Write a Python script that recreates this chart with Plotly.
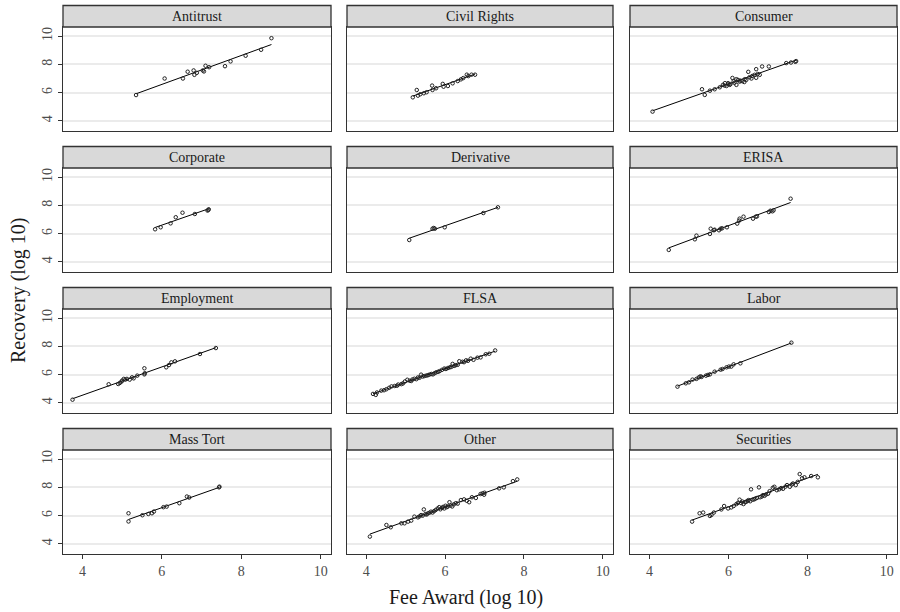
import numpy as np
import plotly.graph_objects as go

# Fee award vs. recovery (both log10), one panel per case category
categories = ["Antitrust", "Civil Rights", "Consumer",
              "Corporate", "Derivative", "ERISA",
              "Employment", "FLSA", "Labor",
              "Mass Tort", "Other", "Securities"]

antitrust_fee = [5.35, 6.07, 6.53, 6.65, 6.80, 6.82, 6.88, 7.03, 7.06, 7.10, 7.19, 7.59, 7.73, 8.11, 8.50, 8.76]
antitrust_rec = [5.83, 7.00, 7.00, 7.48, 7.57, 7.26, 7.40, 7.57, 7.50, 7.90, 7.80, 7.87, 8.21, 8.61, 9.03, 9.85]

civil_fee = [5.18, 5.28, 5.31, 5.37, 5.46, 5.53, 5.67, 5.68, 5.77, 5.94, 5.96, 6.07, 6.19, 6.32, 6.40, 6.46, 6.55, 6.59, 6.67, 6.76]
civil_rec = [5.67, 6.19, 5.79, 5.89, 5.96, 6.03, 6.50, 6.19, 6.31, 6.62, 6.42, 6.47, 6.66, 6.82, 6.94, 7.03, 7.27, 7.17, 7.27, 7.27]

consumer_fee = [4.08, 5.33, 5.40, 5.53, 5.65, 5.78, 5.86, 5.90, 5.91, 5.95, 5.99, 6.00, 6.03, 6.05, 6.10,
                6.13, 6.15, 6.20, 6.20, 6.24, 6.28, 6.30, 6.35, 6.40, 6.41, 6.45, 6.50, 6.53, 6.58, 6.60,
                6.66, 6.70, 6.70, 6.74, 6.79, 6.85, 7.02, 7.46, 7.58, 7.69, 7.71]
consumer_rec = [4.66, 6.24, 5.84, 6.14, 6.24, 6.38, 6.55, 6.50, 6.67, 6.47, 6.67, 6.60, 6.55, 6.60, 7.04,
                6.81, 6.70, 6.55, 6.95, 6.90, 6.78, 6.85, 6.81, 6.75, 6.95, 6.90, 7.47, 7.09, 7.00, 7.18,
                7.26, 7.66, 7.05, 7.32, 7.26, 7.85, 7.85, 8.09, 8.13, 8.18, 8.23]

corporate_fee = [5.83, 5.97, 6.22, 6.35, 6.52, 6.83, 7.15, 7.17, 7.18]
corporate_rec = [6.31, 6.45, 6.73, 7.16, 7.48, 7.39, 7.63, 7.68, 7.72]

derivative_fee = [5.09, 5.68, 5.71, 5.74, 5.99, 6.97, 7.34]
derivative_rec = [5.55, 6.35, 6.40, 6.35, 6.45, 7.46, 7.86]

erisa_fee = [4.49, 5.15, 5.19, 5.53, 5.55, 5.63, 5.65, 5.76, 5.80, 5.84, 5.96, 6.22, 6.27, 6.28, 6.38,
             6.62, 6.69, 6.72, 7.02, 7.06, 7.11, 7.14, 7.57]
erisa_rec = [4.85, 5.60, 5.86, 5.98, 6.35, 6.24, 6.28, 6.24, 6.35, 6.38, 6.45, 6.71, 6.92, 7.06, 7.20,
             7.06, 7.20, 7.22, 7.53, 7.62, 7.58, 7.65, 8.47]

employment_fee = [3.75, 4.66, 4.90, 4.94, 4.98, 5.00, 5.04, 5.08, 5.12, 5.19, 5.25, 5.29, 5.38, 5.56, 5.57,
                  5.56, 6.11, 6.18, 6.24, 6.33, 6.96, 7.36]
employment_rec = [4.23, 5.32, 5.34, 5.41, 5.50, 5.58, 5.70, 5.65, 5.70, 5.65, 5.81, 5.74, 5.93, 6.45, 6.10,
                  6.02, 6.52, 6.68, 6.87, 6.94, 7.46, 7.88]

flsa_fee = [4.17, 4.24, 4.27, 4.38, 4.45, 4.51, 4.58, 4.64, 4.72, 4.78, 4.81, 4.89, 4.93, 4.98, 5.04,
            5.10, 5.14, 5.17, 5.22, 5.27, 5.31, 5.35, 5.39, 5.43, 5.47, 5.52, 5.56, 5.60, 5.65, 5.69,
            5.73, 5.77, 5.82, 5.86, 5.92, 5.98, 6.02, 6.07, 6.12, 6.16, 6.19, 6.23, 6.27, 6.32, 6.36,
            6.44, 6.48, 6.53, 6.58, 6.65, 6.72, 6.82, 6.90, 7.03, 7.12, 7.27]
flsa_rec = [4.64, 4.57, 4.74, 4.87, 4.90, 4.97, 5.07, 5.17, 5.20, 5.22, 5.30, 5.33, 5.38, 5.52, 5.64,
            5.57, 5.55, 5.66, 5.71, 5.68, 5.80, 5.78, 6.00, 5.87, 5.90, 5.93, 5.96, 6.00, 6.05, 6.02,
            6.10, 6.16, 6.20, 6.25, 6.34, 6.43, 6.40, 6.47, 6.52, 6.55, 6.76, 6.62, 6.67, 6.70, 6.95,
            6.91, 6.88, 7.01, 6.98, 7.13, 7.05, 7.20, 7.22, 7.44, 7.48, 7.71]

labor_fee = [4.71, 4.92, 5.00, 5.09, 5.19, 5.25, 5.29, 5.32, 5.43, 5.48, 5.53, 5.65, 5.80, 5.85, 5.95,
             6.01, 6.07, 6.13, 6.30, 7.59]
labor_rec = [5.15, 5.39, 5.46, 5.65, 5.70, 5.81, 5.88, 5.84, 5.93, 5.98, 6.02, 6.21, 6.35, 6.40, 6.52,
             6.57, 6.57, 6.73, 6.80, 8.26]

masstort_fee = [5.16, 5.16, 5.51, 5.66, 5.75, 5.80, 6.04, 6.12, 6.44, 6.63, 6.69, 7.44, 7.45]
masstort_rec = [6.17, 5.59, 6.03, 6.12, 6.17, 6.29, 6.60, 6.64, 6.88, 7.35, 7.28, 8.00, 8.05]

other_fee = [4.09, 4.51, 4.62, 4.89, 4.97, 5.06, 5.14, 5.22, 5.31, 5.35, 5.39, 5.43, 5.46, 5.50, 5.53,
             5.56, 5.60, 5.64, 5.68, 5.72, 5.76, 5.81, 5.85, 5.88, 5.92, 5.95, 5.98, 6.01, 6.04, 6.07,
             6.11, 6.14, 6.18, 6.22, 6.27, 6.32, 6.40, 6.48, 6.55, 6.61, 6.68, 6.78, 6.90, 6.95, 6.99,
             7.00, 7.37, 7.49, 7.72, 7.83]
other_rec = [4.52, 5.34, 5.18, 5.46, 5.46, 5.58, 5.65, 5.93, 5.88, 5.95, 6.04, 6.00, 6.44, 6.11, 6.08,
             6.16, 6.20, 6.28, 6.22, 6.32, 6.40, 6.51, 6.60, 6.45, 6.55, 6.62, 6.51, 6.70, 6.60, 6.65,
             6.95, 6.72, 6.65, 6.80, 6.88, 6.85, 7.10, 7.15, 7.05, 6.95, 7.30, 7.25, 7.53, 7.58, 7.48,
             7.62, 7.93, 8.00, 8.44, 8.56]

securities_fee = [5.08, 5.27, 5.36, 5.53, 5.57, 5.63, 5.82, 5.89, 5.99, 6.07, 6.13, 6.20, 6.24, 6.28, 6.32,
                  6.35, 6.38, 6.42, 6.45, 6.48, 6.51, 6.55, 6.57, 6.61, 6.65, 6.68, 6.72, 6.77, 6.80, 6.84,
                  6.87, 6.91, 6.95, 7.00, 7.04, 7.12, 7.16, 7.22, 7.28, 7.33, 7.38, 7.44, 7.48, 7.55, 7.60,
                  7.63, 7.70, 7.75, 7.80, 7.86, 7.92, 8.09, 8.26]
securities_rec = [5.58, 6.17, 6.22, 5.98, 6.05, 6.22, 6.44, 6.68, 6.51, 6.58, 6.68, 6.82, 6.90, 7.13, 6.89,
                  7.00, 6.82, 6.95, 6.98, 7.05, 7.10, 7.02, 7.86, 7.13, 7.15, 7.20, 7.25, 8.00, 7.30, 7.35,
                  7.45, 7.40, 7.50, 7.55, 7.73, 7.97, 8.04, 7.80, 7.86, 7.95, 7.90, 8.05, 8.16, 8.04, 8.20,
                  8.27, 8.16, 8.39, 8.94, 8.64, 8.71, 8.80, 8.71]

fee_data = [antitrust_fee, civil_fee, consumer_fee, corporate_fee, derivative_fee, erisa_fee,
            employment_fee, flsa_fee, labor_fee, masstort_fee, other_fee, securities_fee]
rec_data = [antitrust_rec, civil_rec, consumer_rec, corporate_rec, derivative_rec, erisa_rec,
            employment_rec, flsa_rec, labor_rec, masstort_rec, other_rec, securities_rec]

x_ticks = [4, 6, 8, 10]
y_ticks = [4, 6, 8, 10]

W, H = 900, 612
# panel pixel boxes (plot area)
col_px = [(63, 331), (347, 613), (630, 897)]
row_px = [(27, 131), (168, 272), (309, 413), (450, 554)]
strip_h = 21.5

SERIF = "Liberation Serif, Times New Roman, serif"
FRAME = "#333333"

fig = go.Figure()
shapes = []
annotations = []

for i, name in enumerate(categories):
    r, c = divmod(i, 3)
    n = i + 1
    xa = "x" if n == 1 else f"x{n}"
    ya = "y" if n == 1 else f"y{n}"
    x0, x1 = col_px[c]
    y0, y1 = row_px[r]

    fee = np.array(fee_data[i])
    rec = np.array(rec_data[i])
    slope, icpt = np.polyfit(fee, rec, 1)
    xs = np.array([fee.min(), fee.max()])

    fig.add_trace(go.Scatter(
        x=xs, y=slope * xs + icpt, mode="lines",
        line=dict(color="black", width=1), xaxis=xa, yaxis=ya,
        showlegend=False, hoverinfo="skip"))
    fig.add_trace(go.Scatter(
        x=fee, y=rec, mode="markers",
        marker=dict(symbol="circle-open", size=3.5, color="#222222", line=dict(width=1)),
        xaxis=xa, yaxis=ya, showlegend=False, name=name))

    show_x = (r == 3)
    show_y = (c == 0)
    xkey = "xaxis" if n == 1 else f"xaxis{n}"
    ykey = "yaxis" if n == 1 else f"yaxis{n}"
    fig.layout[xkey] = dict(
        domain=[x0 / W, x1 / W], anchor=ya, range=[3.51, 10.26],
        tickvals=x_ticks, showticklabels=show_x,
        ticks="outside" if show_x else "", ticklen=4, tickcolor=FRAME,
        showgrid=False, zeroline=False,
        showline=True, mirror=True, linecolor=FRAME, linewidth=1.3,
        tickfont=dict(family=SERIF, size=14, color="#4d4d4d"))
    fig.layout[ykey] = dict(
        domain=[1 - y1 / H, 1 - y0 / H], anchor=xa, range=[3.29, 10.64],
        tickvals=y_ticks, showticklabels=show_y, tickangle=-90,
        ticks="outside" if show_y else "", ticklen=4, tickcolor=FRAME,
        showgrid=True, gridcolor="#ebebeb", gridwidth=1.5, zeroline=False,
        showline=True, mirror=True, linecolor=FRAME, linewidth=1.3,
        tickfont=dict(family=SERIF, size=14, color="#4d4d4d"))

    # strip header above each panel
    shapes.append(dict(
        type="rect", xref="paper", yref="paper",
        x0=x0 / W, x1=x1 / W, y0=1 - y0 / H, y1=1 - (y0 - strip_h) / H,
        fillcolor="#d9d9d9", line=dict(color=FRAME, width=1.3), layer="above"))
    annotations.append(dict(
        text=name, xref="paper", yref="paper",
        x=(x0 + x1) / 2 / W, y=1 - (y0 - strip_h / 2) / H,
        xanchor="center", yanchor="middle", showarrow=False,
        font=dict(family=SERIF, size=14, color="#1a1a1a")))

annotations.append(dict(
    text="Fee Award (log 10)", xref="paper", yref="paper",
    x=466 / W, y=1 - 597 / H, xanchor="center", yanchor="middle",
    showarrow=False, font=dict(family=SERIF, size=20, color="#1a1a1a")))
annotations.append(dict(
    text="Recovery (log 10)", xref="paper", yref="paper",
    x=18 / W, y=1 - 290 / H, xanchor="center", yanchor="middle", textangle=-90,
    showarrow=False, font=dict(family=SERIF, size=20, color="#1a1a1a")))

fig.update_layout(
    width=W, height=H,
    margin=dict(l=0, r=0, t=0, b=0),
    paper_bgcolor="white", plot_bgcolor="white",
    shapes=shapes, annotations=annotations,
    font=dict(family=SERIF),
)

fig.write_html("out.html")
